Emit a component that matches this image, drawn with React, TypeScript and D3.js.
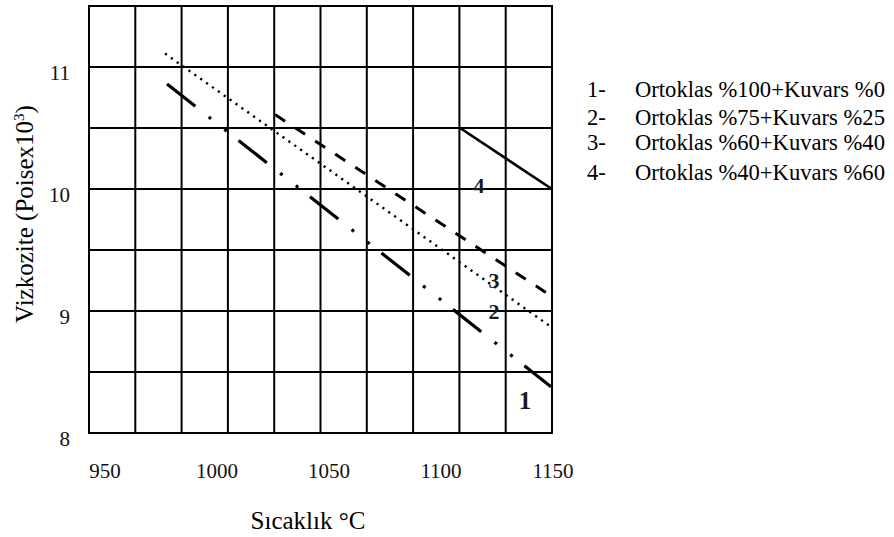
import React from "react";
import * as d3 from "d3";

const W = 894;
const H = 537;

// Axis ticks
const xTicks = [950, 1000, 1050, 1100, 1150];
const yTicks = [8, 9, 10, 11];

// Series (temperature °C, viscosity)
const line1T = [977.7, 1149.1];
const line1V = [10.86, 8.38];
const line2T = [976.8, 1149.1];
const line2V = [11.11, 8.87];
const line3T = [1025.9, 1147.8];
const line3V = [10.61, 9.14];
const line4T = [1108.5, 1149.5];
const line4V = [10.5, 10.0];

// In-plot labels
const labelText = ["1", "2", "3", "4"];
const labelT = [1137.5, 1123.7, 1123.7, 1117.0];
const labelV = [8.27, 9.0, 9.25, 10.03];

// Legend
const legendNums = ["1-", "2-", "3-", "4-"];
const legendTexts = [
  "Ortoklas %100+Kuvars %0",
  "Ortoklas %75+Kuvars %25",
  "Ortoklas %60+Kuvars %40",
  "Ortoklas %40+Kuvars %60",
];

const ts = { fontFamily: "Liberation Serif" } as React.CSSProperties;

export default function App() {
  const x = d3.scaleLinear().domain([950, 1150]).range([105, 553]);
  const y = d3.scaleLinear().domain([8, 11.5]).range([433, 6]);
  const tMin = x.invert(89);
  const tMax = x.invert(552);
  const gx = d3.scaleLinear().domain([0, 10]).range([x(tMin), x(tMax)]);
  const gridCols = d3.range(0, 11);
  const gridRows = d3.range(8, 11.51, 0.5);

  const line = d3
    .line<[number, number]>()
    .x((d) => x(d[0]))
    .y((d) => y(d[1]));
  const pts = (t: number[], v: number[]) => t.map((tt, i) => [tt, v[i]] as [number, number]);

  const series = [
    { d: pts(line1T, line1V), dash: "36 17 3 17 3 15", w: 3.2 },
    { d: pts(line2T, line2V), dash: "2.2 5", w: 2.4 },
    { d: pts(line3T, line3V), dash: "12 12", w: 3 },
    { d: pts(line4T, line4V), dash: null, w: 2.6 },
  ];

  const legendY = [97, 125, 150, 180];

  return (
    <svg
      width={W}
      height={H}
      style={{ position: "absolute", left: 0, top: 0, background: "#fff", fontFamily: "Liberation Serif" }}
    >
      <rect x={0} y={0} width={W} height={H} fill="#fff" />
      {gridCols.map((c) => (
        <line
          key={"c" + c}
          x1={gx(c)}
          x2={gx(c)}
          y1={y(8)}
          y2={y(11.5)}
          stroke="#000"
          strokeWidth={2}
        />
      ))}
      {gridRows.map((r) => (
        <line
          key={"r" + r}
          x1={gx(0) - 1}
          x2={gx(10) + 1}
          y1={y(r)}
          y2={y(r)}
          stroke="#000"
          strokeWidth={2}
        />
      ))}
      {series.map((s, i) => (
        <path
          key={"s" + i}
          d={line(s.d) || ""}
          fill="none"
          stroke="#000"
          strokeWidth={s.w}
          strokeDasharray={s.dash || undefined}
        />
      ))}
      {labelText.map((t, i) => (
        <text
          key={"l" + i}
          x={x(labelT[i])}
          y={y(labelV[i])}
          textAnchor="middle"
          dominantBaseline="central"
          fontSize={i === 0 ? 25 : 22}
          fontWeight="bold"
          fill="#1a1a1a"
          style={ts}
        >
          {t}
        </text>
      ))}
      {xTicks.map((t) => (
        <text key={"xt" + t} x={x(t)} y={478} textAnchor="middle" fontSize={21} fill="#111" style={ts}>
          {t}
        </text>
      ))}
      {yTicks.map((t) => (
        <text key={"yt" + t} x={70} y={y(t) + 13} textAnchor="end" fontSize={21} fill="#111" style={ts}>
          {t}
        </text>
      ))}
      <text x={308} y={529} textAnchor="middle" fontSize={25} fill="#000" style={ts}>
        Sıcaklık °C
      </text>
      <text
        transform="translate(33,214) rotate(-90)"
        textAnchor="middle"
        fontSize={25}
        fill="#000"
        style={ts}
      >
        Vizkozite (Poisex10
        <tspan dy={-9} fontSize={15}>3</tspan>
        <tspan dy={9}>)</tspan>
      </text>
      {legendNums.map((n, i) => (
        <g key={"lg" + i}>
          <text x={587} y={legendY[i]} fontSize={22.6} fill="#000" style={ts}>
            {n}
          </text>
          <text x={635} y={legendY[i]} fontSize={22.6} fill="#000" style={ts}>
            {legendTexts[i]}
          </text>
        </g>
      ))}
    </svg>
  );
}
